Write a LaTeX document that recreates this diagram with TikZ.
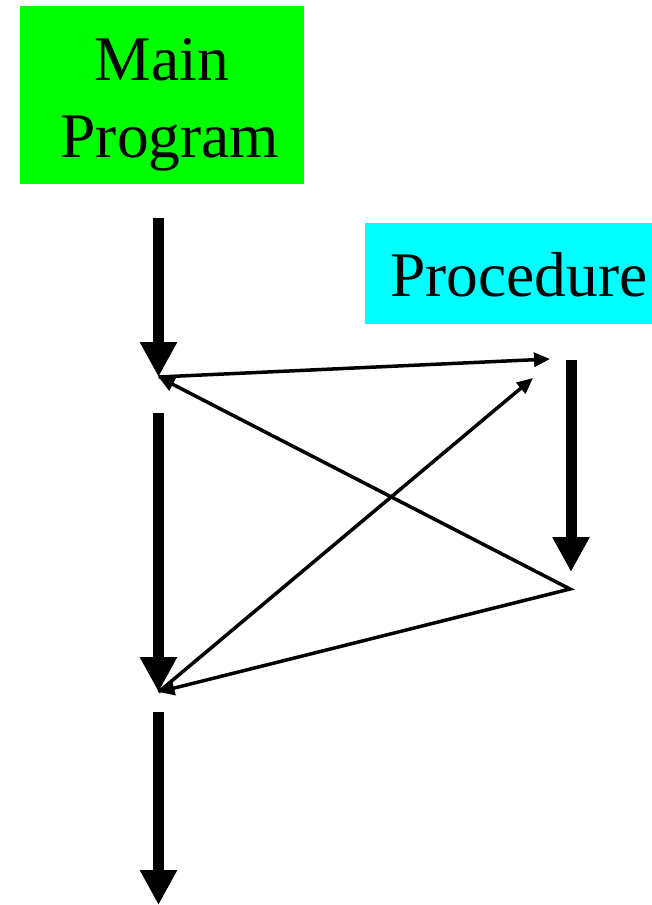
\documentclass[tikz,border=0pt]{standalone}
\usepackage{fontspec}
\setmainfont{Liberation Serif}
\usetikzlibrary{arrows.meta}
\definecolor{mainfill}{RGB}{0,255,0}
\definecolor{procfill}{RGB}{0,255,255}
\begin{document}
\begin{tikzpicture}[x=1pt,y=-1pt,
  box/.style={draw=none, inner sep=0pt, anchor=north west},
  lbl/.style={font=\fontsize{63.5}{77}\selectfont, inner sep=0pt, anchor=base},
  flow/.style={line width=11pt, -{Triangle[length=35pt,width=35pt]}},
  call/.style={line width=3.5pt, -{Triangle[length=16pt,width=14pt]}},
  callboth/.style={line width=3.5pt, line join=miter,
    {Triangle[length=16pt,width=14pt]}-{Triangle[length=16pt,width=14pt]}}]
\useasboundingbox (0,0) rectangle (652,905);

% boxes and their labels
\node[box, fill=mainfill, minimum width=284pt, minimum height=178pt] (main) at (20,6) {};
\node[lbl] (mainA) at (162,80) {Main};
\node[lbl] (mainB) at (170,157) {Program};
\node[box, fill=procfill, minimum width=287pt, minimum height=101pt] (proc) at (365,223) {};
\node[lbl] (procA) at (519,296) {Procedure};

% points of the control flow
\coordinate (m1s) at (158.5,218);
\coordinate (A)   at (158.5,377);
\coordinate (m2s) at (158.5,413);
\coordinate (B)   at (158.5,692);
\coordinate (m3s) at (158.5,712);
\coordinate (m3e) at (158.5,905);
\coordinate (p1s) at (571,360);
\coordinate (p1e) at (571,572);
\coordinate (c1)  at (550,359);
\coordinate (c2)  at (533,378);
\coordinate (P2)  at (570,589);

% main program and procedure flow
\draw[flow] (m1s) -- (A);
\draw[flow] (m2s) -- (B);
\draw[flow] (m3s) -- (m3e);
\draw[flow] (p1s) -- (p1e);

% calls and returns
\draw[call] (A) -- (c1);
\draw[call] (B) -- (c2);
\draw[callboth] (A) -- (P2) -- (B);
\end{tikzpicture}
\end{document}
